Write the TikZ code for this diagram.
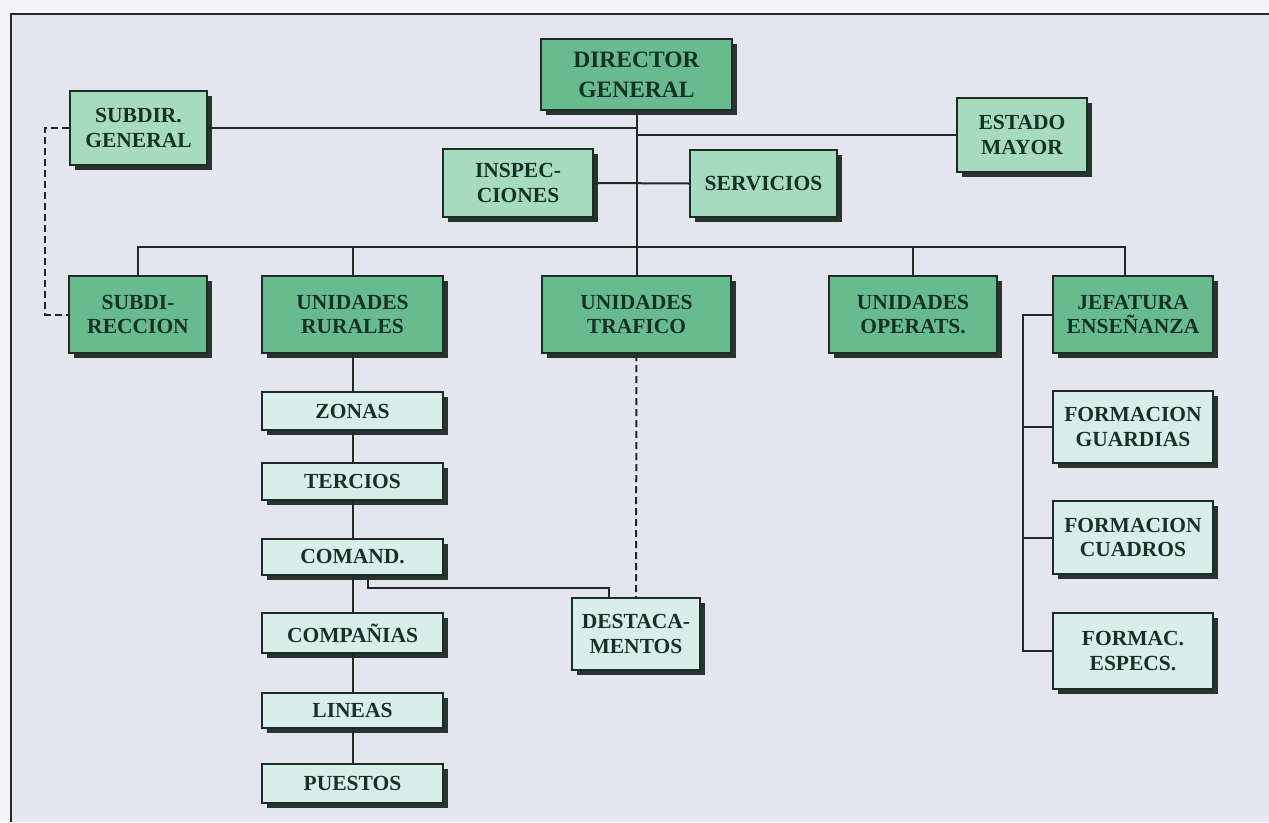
\documentclass[tikz,border=0pt]{standalone}
\usepackage{fontspec}
\setmainfont{Liberation Serif}
\usetikzlibrary{shadows}

\definecolor{pagecol}{RGB}{244,244,247}
\definecolor{panel}{RGB}{229,229,239}
\definecolor{edge}{RGB}{30,44,38}
\definecolor{ink}{RGB}{22,50,38}
\definecolor{shade}{RGB}{40,52,48}
\definecolor{greenA}{RGB}{104,187,142}
\definecolor{greenB}{RGB}{166,219,190}
\definecolor{paleC}{RGB}{216,238,234}

\tikzset{
  unit/.style={draw=edge, line width=2pt, text=ink, align=center, inner sep=0pt,
    font=\bfseries\fontsize{21.5}{24.5}\selectfont,
    drop shadow={shadow xshift=5pt, shadow yshift=-5pt, fill=shade, opacity=1}},
  mainbox/.style={unit, fill=greenA},
  staffbox/.style={unit, fill=greenB},
  subbox/.style={unit, fill=paleC},
  link/.style={draw=edge, line width=2pt},
  dashlink/.style={link, dashed, dash pattern=on 7pt off 4pt},
}

\begin{document}
\begin{tikzpicture}[x=1pt,y=-1pt]
\useasboundingbox (0,0) rectangle (1269,822);
% page and framed panel
\fill[pagecol] (0,0) rectangle (1269,822);
\fill[panel] (11,14) rectangle (1269,822);
\draw[edge, line width=2pt] (11,822) -- (11,14) -- (1269,14);

% top level
\node[mainbox, minimum width=191pt, minimum height=71pt,
      font=\bfseries\fontsize{23.5}{30}\selectfont] (dir) at (636.5,74.5) {DIRECTOR\\GENERAL};
\node[staffbox, minimum width=137pt, minimum height=74pt] (sg) at (138.5,128) {SUBDIR.\\GENERAL};
\node[staffbox, minimum width=130pt, minimum height=74pt] (est) at (1022,135) {ESTADO\\MAYOR};
\node[staffbox, minimum width=150pt, minimum height=68pt] (insp) at (518,183) {INSPEC-\\CIONES};
\node[staffbox, minimum width=147pt, minimum height=67pt] (serv) at (763.5,183.5) {SERVICIOS};

% second level
\node[mainbox, minimum width=138pt, minimum height=77pt] (sub) at (138,314.5) {SUBDI-\\RECCION};
\node[mainbox, minimum width=181pt, minimum height=77pt] (rur) at (352.5,314.5) {UNIDADES\\RURALES};
\node[mainbox, minimum width=189pt, minimum height=77pt] (traf) at (636.5,314.5) {UNIDADES\\TRAFICO};
\node[mainbox, minimum width=168pt, minimum height=77pt] (ope) at (913,314.5) {UNIDADES\\OPERATS.};
\node[mainbox, minimum width=160pt, minimum height=77pt] (jef) at (1133,314.5) {JEFATURA\\ENSEÑANZA};

% rural chain
\node[subbox, minimum width=181pt, minimum height=38pt] (zon) at (352.5,411) {ZONAS};
\node[subbox, minimum width=181pt, minimum height=37pt] (ter) at (352.5,481.5) {TERCIOS};
\node[subbox, minimum width=181pt, minimum height=36pt] (com) at (352.5,557) {COMAND.};
\node[subbox, minimum width=181pt, minimum height=40pt] (cia) at (352.5,633) {COMPAÑIAS};
\node[subbox, minimum width=181pt, minimum height=35pt] (lin) at (352.5,710.5) {LINEAS};
\node[subbox, minimum width=181pt, minimum height=39pt] (pue) at (352.5,783.5) {PUESTOS};
\node[subbox, minimum width=128pt, minimum height=72pt] (des) at (636,634) {DESTACA-\\MENTOS};

% training branch
\node[subbox, minimum width=160pt, minimum height=72pt] (gua) at (1133,427) {FORMACION\\GUARDIAS};
\node[subbox, minimum width=160pt, minimum height=73pt] (cua) at (1133,537.5) {FORMACION\\CUADROS};
\node[subbox, minimum width=160pt, minimum height=76pt] (esp) at (1133,651) {FORMAC.\\ESPECS.};

% connectors
\coordinate (bus) at (0,247);
\coordinate (dk) at (609,588);
\draw[link] (dir.south) -- (traf.north);
\draw[link] (sg.east) -- (sg.east -| dir.south);
\draw[link] (est.west) -- (est.west -| dir.south);
\draw[link] (insp.east) -- (serv.west);
\draw[link] (sub.north) -- (sub.north |- bus) -- ([xshift=-8pt]jef.north |- bus) -- ([xshift=-8pt]jef.north);
\draw[link] (rur.north) -- (rur.north |- bus);
\draw[link] (ope.north) -- (ope.north |- bus);
\draw[link] (rur.south) -- (zon.north);
\draw[link] (zon.south) -- (ter.north);
\draw[link] (ter.south) -- (com.north);
\draw[link] (com.south) -- (cia.north);
\draw[link] (cia.south) -- (lin.north);
\draw[link] (lin.south) -- (pue.north);
\draw[link] ([xshift=15pt]com.south) |- (dk) -- (dk |- des.north);
\draw[dashlink] (traf.south) -- (des.north);
\draw[dashlink] (sg.west) -- ++(-24,0) |- (sub.west);
\draw[link] (jef.west) -- ++(-29,0) |- (esp.west);
\draw[link] (gua.west) -- ++(-29,0);
\draw[link] (cua.west) -- ++(-29,0);
\end{tikzpicture}
\end{document}
